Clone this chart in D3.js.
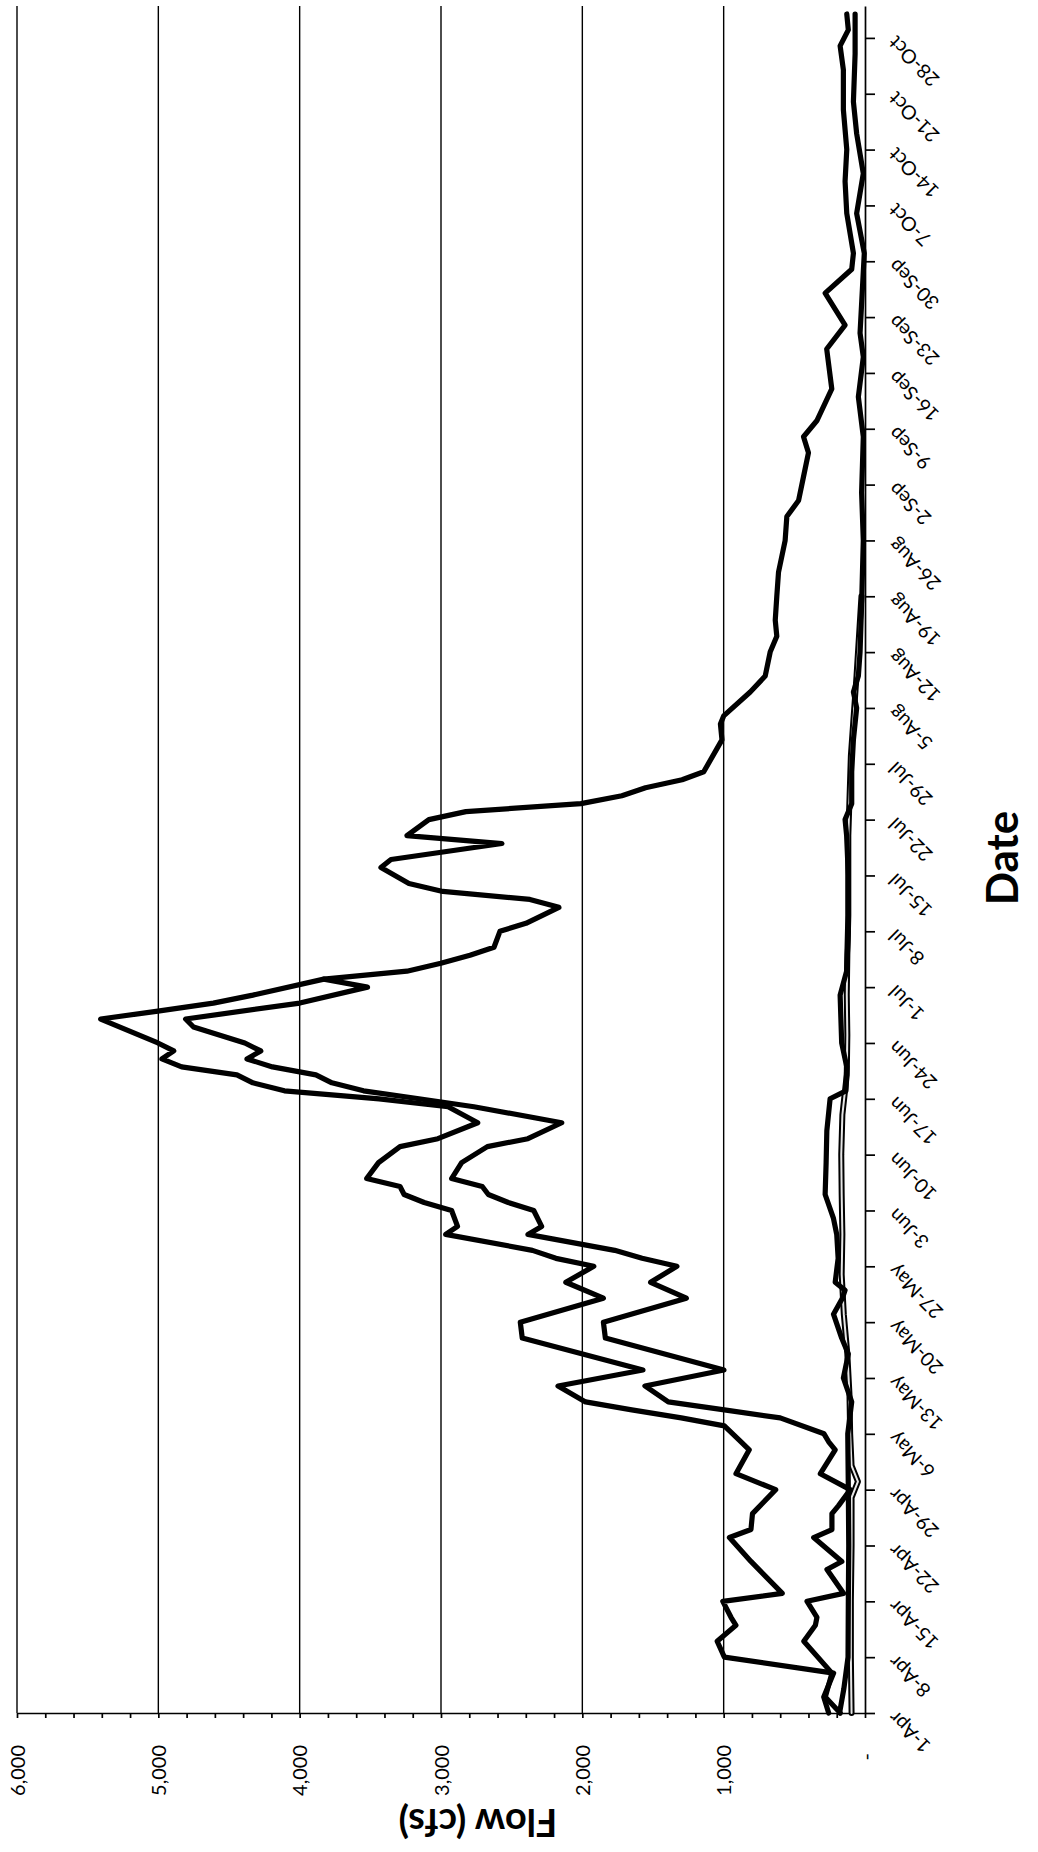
<!DOCTYPE html>
<html>
<head>
<meta charset="utf-8">
<script src="https://cdn.jsdelivr.net/npm/d3@7"></script>
<style>
  html, body { margin: 0; padding: 0; background: #fff; }
  .chart text { font-family: Lato, "Liberation Sans", Arial, sans-serif; fill: #000; }
</style>
</head>
<body>
<div class="chart"></div>
<script>
// daily flow (dates as MM-DD)
const upperFlow = [
  ["04-01", 257], ["04-03", 292], ["04-06", 222], ["04-08", 995], ["04-10", 1046],
  ["04-12", 913], ["04-13", 948], ["04-15", 1006], ["04-16", 585], ["04-20", 807],
  ["04-23", 959], ["04-24", 807], ["04-26", 796], ["04-29", 632], ["05-01", 913],
  ["05-04", 819], ["05-05", 877], ["05-07", 995], ["05-08", 1300], ["05-09", 1650],
  ["05-10", 1977], ["05-12", 2172], ["05-14", 1571], ["05-18", 2425], ["05-20", 2439],
  ["05-23", 1851], ["05-25", 2117], ["05-27", 1919], ["05-28", 2187], ["05-29", 2353],
  ["05-31", 2967], ["06-01", 2883], ["06-03", 2925], ["06-04", 3119], ["06-05", 3261],
  ["06-06", 3290], ["06-07", 3526], ["06-09", 3442], ["06-11", 3290], ["06-12", 3022],
  ["06-14", 2740], ["06-16", 2950], ["06-17", 3437], ["06-18", 4108], ["06-19", 4331],
  ["06-20", 4444], ["06-21", 4835], ["06-22", 4975], ["06-23", 4891], ["06-24", 5003],
  ["06-27", 5408], ["06-28", 5003], ["06-29", 4611], ["06-30", 4331], ["07-02", 3829],
  ["07-03", 3241], ["07-04", 3001], ["07-05", 2795], ["07-06", 2625], ["07-08", 2583],
  ["07-09", 2399], ["07-11", 2166], ["07-12", 2371], ["07-13", 2987], ["07-14", 3227],
  ["07-16", 3425], ["07-17", 3354], ["07-19", 2569], ["07-20", 3241], ["07-22", 3086],
  ["07-23", 2824], ["07-24", 2010], ["07-25", 1720], ["07-26", 1553], ["07-27", 1294],
  ["07-28", 1141], ["08-01", 1012], ["08-03", 1023], ["08-04", 1000], ["08-07", 812],
  ["08-09", 706], ["08-12", 671], ["08-14", 624], ["08-16", 635], ["08-19", 624],
  ["08-22", 612], ["08-26", 565], ["08-29", 553], ["08-31", 470], ["09-03", 435],
  ["09-06", 400], ["09-08", 435], ["09-10", 341], ["09-14", 235], ["09-19", 271],
  ["09-22", 141], ["09-26", 282], ["09-29", 94], ["10-01", 82], ["10-06", 129],
  ["10-10", 141], ["10-14", 129], ["10-19", 153], ["10-24", 153], ["10-27", 176],
  ["10-29", 118], ["10-31", 129]
];

const lowerFlow = [
  ["04-01", 175], ["04-03", 281], ["04-06", 234], ["04-10", 433], ["04-12", 351],
  ["04-13", 340], ["04-15", 410], ["04-16", 152], ["04-19", 269], ["04-20", 164],
  ["04-23", 363], ["04-24", 234], ["04-26", 234], ["04-27", 187], ["04-29", 105],
  ["05-01", 316], ["05-04", 211], ["05-05", 257], ["05-06", 290], ["05-08", 600],
  ["05-09", 995], ["05-10", 1392], ["05-12", 1557], ["05-14", 998], ["05-18", 1837],
  ["05-20", 1851], ["05-23", 1264], ["05-25", 1517], ["05-27", 1331], ["05-28", 1577],
  ["05-29", 1771], ["05-31", 2385], ["06-01", 2288], ["06-03", 2344], ["06-04", 2524],
  ["06-05", 2665], ["06-06", 2708], ["06-07", 2925], ["06-09", 2854], ["06-11", 2672],
  ["06-12", 2385], ["06-14", 2146], ["06-16", 2767], ["06-17", 3156], ["06-18", 3548],
  ["06-19", 3772], ["06-20", 3885], ["06-21", 4192], ["06-22", 4373], ["06-23", 4275],
  ["06-24", 4388], ["06-26", 4751], ["06-27", 4807], ["06-29", 3999], ["07-01", 3520],
  ["07-02", 3829]
];

const baseFlow = [
  ["04-01", 180], ["04-04", 150], ["04-08", 120], ["04-15", 118], ["04-22", 115],
  ["04-29", 118], ["05-06", 122], ["05-10", 94], ["05-13", 153], ["05-16", 118],
  ["05-18", 165], ["05-21", 223], ["05-23", 160], ["05-24", 141], ["05-25", 211],
  ["05-28", 190], ["05-31", 200], ["06-02", 223], ["06-05", 282], ["06-09", 275],
  ["06-13", 270], ["06-17", 247], ["06-18", 135], ["06-21", 129], ["06-24", 165],
  ["06-30", 176], ["07-03", 130], ["07-08", 118], ["07-15", 118], ["07-20", 130],
  ["07-22", 141], ["07-24", 94], ["07-28", 94], ["08-01", 82], ["08-05", 59],
  ["08-07", 82], ["08-09", 47], ["08-12", 35], ["08-18", 24], ["08-26", 12],
  ["09-01", 24], ["09-08", 12], ["09-13", 47], ["09-18", 12], ["09-21", 35],
  ["09-25", 23], ["10-01", 5], ["10-06", 59], ["10-11", 12], ["10-16", 59],
  ["10-20", 82], ["10-26", 70], ["10-31", 70]
];

const otherFlow = [
  ["04-01", 95], ["04-08", 100], ["04-15", 100], ["04-22", 95], ["04-28", 95],
  ["04-30", 50], ["05-02", 95], ["05-06", 105], ["05-11", 110], ["05-16", 125],
  ["05-21", 150], ["05-26", 165], ["05-31", 160], ["06-05", 165], ["06-10", 168],
  ["06-15", 160], ["06-20", 129], ["06-25", 125], ["06-30", 129], ["07-05", 125],
  ["07-10", 118], ["07-20", 118], ["07-30", 100], ["08-09", 60], ["08-19", 25]
];

const flowTicks = [0, 1000, 2000, 3000, 4000, 5000, 6000];
const dateTicks = [
  "04-01", "04-08", "04-15", "04-22", "04-29", "05-06", "05-13", "05-20", "05-27",
  "06-03", "06-10", "06-17", "06-24", "07-01", "07-08", "07-15", "07-22", "07-29",
  "08-05", "08-12", "08-19", "08-26", "09-02", "09-09", "09-16", "09-23", "09-30",
  "10-07", "10-14", "10-21", "10-28"
];

const svgWidth = 1038,
  svgHeight = 1852;

const parseDay = d3.timeParse('%Y-%m-%d');
const toDate = s => parseDay(`2009-${s}`);

const svg = d3.select('.chart')
  .append('svg')
  .attr('width', svgWidth)
  .attr('height', svgHeight)
  .style('display', 'block')
  .style('background', '#fff');

// the page is scanned sideways: flow runs right->left, dates bottom->top
const flowScale = d3.scaleLinear()
  .domain([0, 6000])
  .range([865, 17]);

const dateScale = d3.scaleTime()
  .domain([toDate('04-01'), toDate('11-01')])
  .range([1713, 6]);

// gridlines
svg.append('g')
  .selectAll('line')
  .data(flowTicks.filter(d => d > 0))
  .join('line')
  .attr('x1', d => flowScale(d))
  .attr('x2', d => flowScale(d))
  .attr('y1', dateScale.range()[0])
  .attr('y2', dateScale.range()[1])
  .attr('stroke', '#000')
  .attr('stroke-width', 1.4);

// flow axis (minor ticks every 200)
svg.append('g')
  .attr('transform', `translate(0, ${dateScale.range()[0]})`)
  .call(d3.axisBottom(flowScale)
    .tickValues(d3.range(0, 6001, 200))
    .tickSize(5)
    .tickSizeOuter(0)
    .tickFormat(''))
  .call(g => g.selectAll('path, line').attr('stroke', '#000').attr('stroke-width', 1.7));

svg.append('g')
  .attr('transform', `translate(0, ${dateScale.range()[0]})`)
  .call(d3.axisBottom(flowScale)
    .tickValues(flowTicks)
    .tickSize(0)
    .tickFormat(d => d === 0 ? '-' : d3.format(',')(d)))
  .call(g => g.select('.domain').remove())
  .selectAll('text')
  .attr('y', 0)
  .attr('dy', '0.35em')
  .attr('transform', d => `translate(0, ${d === 0 ? 40 : 32}) rotate(-90)`)
  .style('text-anchor', 'end')
  .style('font-size', '20px');

// date axis
svg.append('g')
  .attr('transform', `translate(${flowScale(0)}, 0)`)
  .call(d3.axisRight(dateScale)
    .tickValues(dateTicks.map(toDate))
    .tickSize(10)
    .tickSizeOuter(0)
    .tickFormat(d3.timeFormat('%-d-%b')))
  .call(g => g.selectAll('path, line').attr('stroke', '#000').attr('stroke-width', 1.7))
  .selectAll('text')
  .attr('x', 0)
  .attr('dy', '0.35em')
  .attr('transform', 'translate(27, 1) rotate(-135)')
  .style('text-anchor', 'end')
  .style('font-size', '19.5px');

// series
const line = d3.line()
  .x(d => flowScale(d[1]))
  .y(d => dateScale(toDate(d[0])));

const plot = svg.append('g')
  .attr('fill', 'none')
  .attr('stroke-linejoin', 'round')
  .attr('stroke-linecap', 'round');

plot.append('path')
  .attr('d', line(otherFlow))
  .attr('stroke', '#000')
  .attr('stroke-width', 6);

plot.append('path')
  .attr('d', line(otherFlow))
  .attr('stroke', '#e6e6e6')
  .attr('stroke-width', 2);

[baseFlow, lowerFlow, upperFlow].forEach(series => {
  plot.append('path')
    .attr('d', line(series))
    .attr('stroke', '#000')
    .attr('stroke-width', 5.2);
});

// axis titles
svg.append('text')
  .attr('transform', 'translate(478, 1822) rotate(180)')
  .attr('dy', '0.35em')
  .style('text-anchor', 'middle')
  .style('font-size', '38px')
  .style('font-weight', 'bold')
  .text('Flow (cfs)');

svg.append('text')
  .attr('transform', 'translate(1003, 858) rotate(-90)')
  .attr('dy', '0.35em')
  .style('text-anchor', 'middle')
  .style('font-size', '44px')
  .style('font-weight', 'bold')
  .text('Date');
</script>
</body>
</html>
